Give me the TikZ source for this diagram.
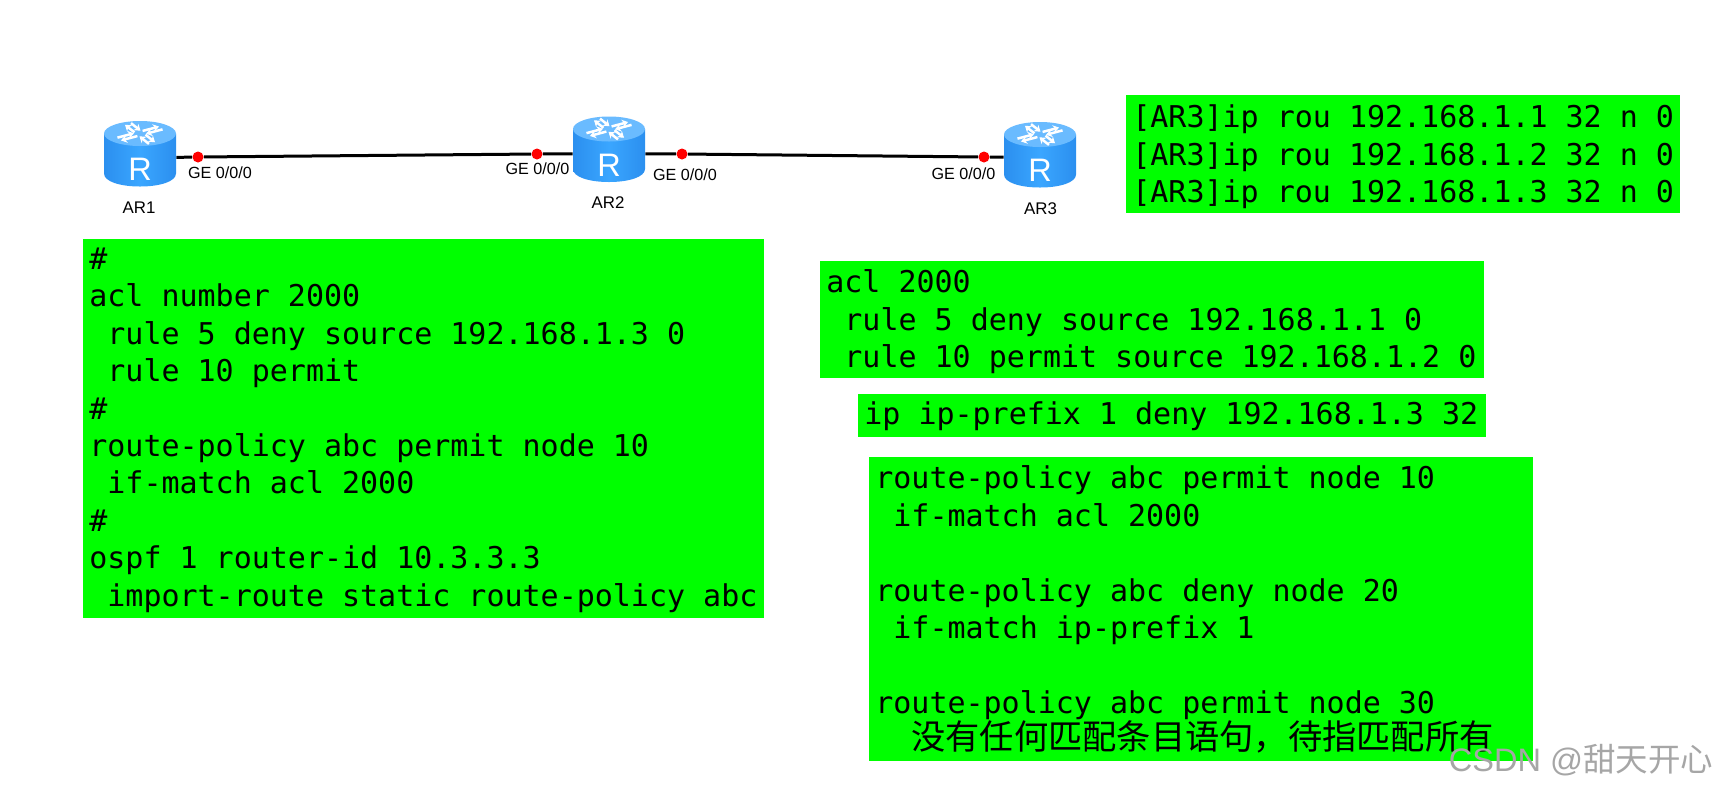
\documentclass[tikz,border=0pt]{standalone}
\usepackage{fontspec}
\usetikzlibrary{arrows.meta}
\setmonofont{DejaVu Sans Mono}
\setsansfont{Liberation Sans}
\newfontfamily\cjk{Noto Sans CJK SC}
\definecolor{codegreen}{HTML}{00FF00}
\definecolor{routertop}{HTML}{6ABBFF}
\definecolor{routerside}{HTML}{2B8FEF}
\definecolor{routermid}{HTML}{3AA6FF}
\newcommand{\ind}{\hspace*{0.602em}}
\tikzset{
    codebox/.style={fill=codegreen,anchor=north west,inner xsep=0.12cm,inner ysep=0pt,align=flush left,
        font=\ttfamily\fontsize{17.07}{21.3}\selectfont},
    routernode/.style={inner sep=0pt,minimum width=1.44cm,minimum height=0.6cm},
    portdot/.style={circle,fill=red,inner sep=0pt,minimum size=0.22cm},
    portlabel/.style={inner sep=0pt,font=\sffamily\fontsize{9.2}{11}\selectfont},
    routerlabel/.style={inner sep=0pt,font=\sffamily\fontsize{9.6}{11}\selectfont},
    link/.style={draw=black,line width=0.06cm},
    router/.pic={
        \shade[left color=routerside,right color=routerside,middle color=routermid]
            (-36,-20) -- (-36,20) .. controls (-36,28) and (-20,33) .. (0,33)
            .. controls (20,33) and (36,28) .. (36,20) -- (36,-20) -- cycle;
        \fill[routertop] (0,-20) ellipse [x radius=36,y radius=12.5];
        \foreach \ang in {30,120,210,300} {
            \draw[white,line width=0.05cm,-{Stealth[length=0.12cm,width=0.16cm]},shift={(0,-20)},yscale=0.46,rotate=\ang] (5,-3.5) -- (24,-3.5);
            \draw[white,line width=0.05cm,{Stealth[length=0.12cm,width=0.16cm]}-,shift={(0,-20)},yscale=0.46,rotate=\ang] (5,3.5) -- (24,3.5);
        }
        \node[white,inner sep=0pt,font=\sffamily\fontsize{18.5}{20}\selectfont] (-R) at (0,16) {R};
    }
}
\begin{document}
\begin{tikzpicture}[x=0.02cm,y=-0.02cm]
    \useasboundingbox (0,0) rectangle (1712,789);

    \node[routernode] (AR1) at (140,158) {};
    \node[routernode] (AR2) at (609,153.5) {};
    \node[routernode] (AR3) at (1040,157) {};

    \node[portdot] (P1) at (198,157) {};
    \node[portdot] (P2) at (537,154) {};
    \node[portdot] (P3) at (682,154) {};
    \node[portdot] (P4) at (984,157) {};

    \draw[link] (AR1) -- (P1) -- (P2) -- (AR2);
    \draw[link] (AR2) -- (P3) -- (P4) -- (AR3);

    \pic at (140,153.5) {router};
    \pic at (609,149) {router};
    \pic at (1040,154.5) {router};

    \node[portlabel] (L1) at (220,172.5) {GE 0/0/0};
    \node[portlabel] (L2) at (537.5,169) {GE 0/0/0};
    \node[portlabel] (L3) at (685,175) {GE 0/0/0};
    \node[portlabel] (L4) at (963.5,173.5) {GE 0/0/0};

    \node[routerlabel] (N1) at (139,207.5) {AR1};
    \node[routerlabel] (N2) at (608,203) {AR2};
    \node[routerlabel] (N3) at (1040.5,208.5) {AR3};

    \node[codebox,text width=10.84cm,minimum height=2.36cm] (STATIC) at (1126,95)
        {\rule{0pt}{15.8pt}{[AR3]ip rou 192.168.1.1 32 n 0}\\{[AR3]ip rou 192.168.1.2 32 n 0}\\{[AR3]ip rou 192.168.1.3 32 n 0}};

    \node[codebox,text width=13.38cm,minimum height=7.58cm] (LEFT) at (83,239)
        {\rule{0pt}{13.7pt}\#\\acl number 2000\\\ind rule 5 deny source 192.168.1.3 0\\\ind rule 10 permit\\\#\\route-policy abc permit node 10\\\ind if-match acl 2000\\\#\\ospf 1 router-id 10.3.3.3\\\ind import-route static route-policy abc};

    \node[codebox,text width=13.04cm,minimum height=2.34cm] (ACL) at (820,261)
        {\rule{0pt}{15.5pt}acl 2000\\\ind rule 5 deny source 192.168.1.1 0\\\ind rule 10 permit source 192.168.1.2 0};

    \node[codebox,text width=12.32cm,minimum height=0.86cm] (PREFIX) at (858,394)
        {ip ip-prefix 1 deny 192.168.1.3 32};

    \node[codebox,text width=13.04cm,minimum height=6.08cm] (POLICY) at (869,457)
        {route-policy abc permit node 10\\\ind if-match acl 2000\\\mbox{}\\route-policy abc deny node 20\\\ind if-match ip-prefix 1\\\mbox{}\\route-policy abc permit node 30\\[-1pt]\hspace*{0.72cm}{\cjk\fontsize{19.5}{21.3}\selectfont 没有任何匹配条目语句，待指匹配所有}};

    \node[inner sep=0pt,text=black!35,font=\sffamily\fontsize{18.5}{20}\selectfont] (MARK) at (1581,760)
        {CSDN @{\cjk 甜天开心}};
\end{tikzpicture}
\end{document}
